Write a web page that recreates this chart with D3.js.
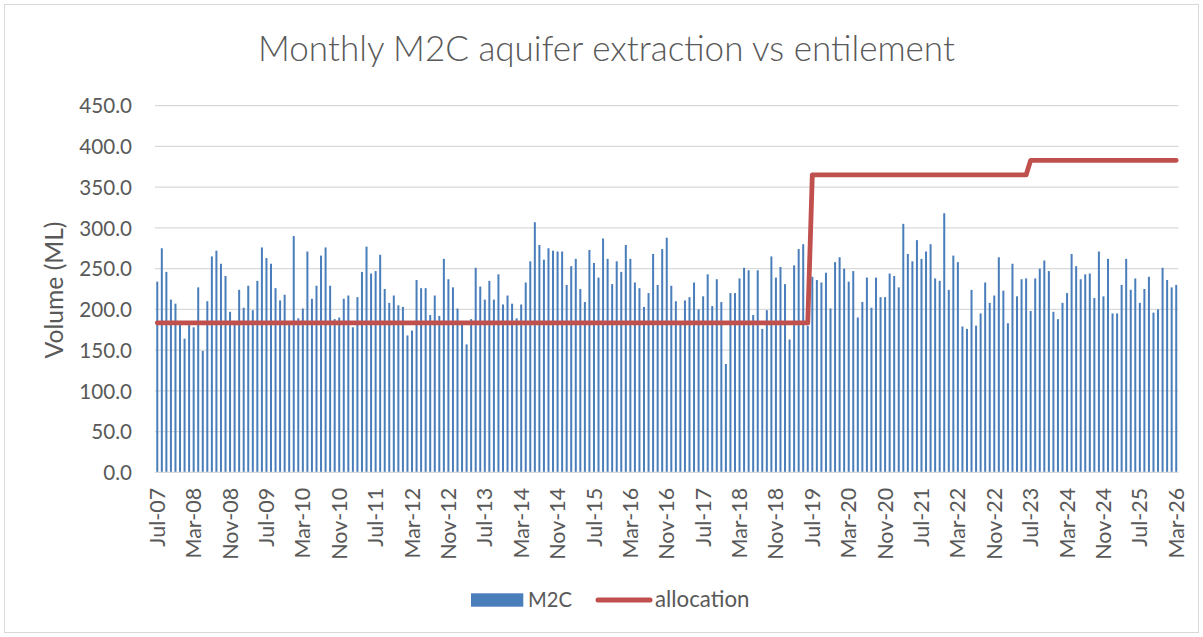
<!DOCTYPE html>
<html>
<head>
<meta charset="utf-8">
<script src="https://cdn.jsdelivr.net/npm/d3@7"></script>
<style>
  html, body { margin: 0; padding: 0; background: #fff; }
  svg { display: block; font-family: Lato, "Open Sans", sans-serif; }
</style>
</head>
<body>
<svg id="chart" width="1203" height="637"></svg>
<script>
// ---------------- DATA ----------------
const startMonth = new Date(2007, 6, 1);   // Jul-07
const endMonth = new Date(2026, 2, 1);     // Mar-26
const months = d3.timeMonth.range(startMonth, d3.timeMonth.offset(endMonth, 1));
const fmt = d3.timeFormat("%b-%y");
const categories = months.map(fmt);

const m2c = [
  234,275,246,212,207,181,164,181,178,227,149,210,265,272,256,241,197,185,224,202,
  229,199,235,276,263,256,226,211,218,181,290,189,201,271,213,229,266,276,229,188,
  190,213,217,178,215,246,277,244,247,267,225,208,217,205,203,168,174,236,226,226,
  193,217,192,262,237,227,201,185,157,188,251,228,212,235,212,243,206,217,207,189,
  206,233,259,307,279,261,275,272,271,271,230,253,262,225,209,273,257,239,287,262,
  231,259,246,279,262,233,226,203,220,268,230,274,288,229,210,185,211,215,233,200,
  216,243,204,237,209,133,220,220,238,251,248,193,248,176,199,265,239,252,231,163,
  254,274,280,180,240,236,233,245,201,258,264,250,234,247,190,209,239,202,239,215,
  215,244,241,227,305,268,259,285,262,271,280,238,235,318,224,266,258,179,176,224,
  180,195,233,208,217,264,223,183,256,216,237,238,198,238,250,260,247,197,188,208,
  220,268,253,237,243,244,214,271,216,262,195,195,230,262,224,238,208,225,240,196,
  200,251,236,227,230
];

// allocation (entitlement) periods
const allocationPeriods = [
  { from: "Jul-07", to: "Jun-19", value: 183.5 },
  { from: "Jul-19", to: "Jun-23", value: 365 },
  { from: "Jul-23", to: "Mar-26", value: 383 }
];

const yTicks = [0, 50, 100, 150, 200, 250, 300, 350, 400, 450];
const xTickLabels = ["Jul-07","Mar-08","Nov-08","Jul-09","Mar-10","Nov-10","Jul-11","Mar-12",
  "Nov-12","Jul-13","Mar-14","Nov-14","Jul-15","Mar-16","Nov-16","Jul-17","Mar-18","Nov-18",
  "Jul-19","Mar-20","Nov-20","Jul-21","Mar-22","Nov-22","Jul-23","Mar-24","Nov-24","Jul-25","Mar-26"];

const titleText = "Monthly M2C aquifer extraction vs entilement";
const yLabelText = "Volume (ML)";
const seriesNames = ["M2C", "allocation"];

// build allocation per category
const allocation = categories.map((c, idx) => {
  const p = allocationPeriods.find(p => idx >= categories.indexOf(p.from) && idx <= categories.indexOf(p.to));
  return p ? p.value : null;
});

// ---------------- LAYOUT ----------------
const svg = d3.select("#chart");
const W = 1203, H = 637;
const plot = { left: 155, right: 1178.5, top: 105.7, bottom: 472.3 };
const barColor = "#4a7ebb";
const lineColor = "#c0504d";
const textColor = "#595959";
const gridColor = "#d9d9d9";

// outer border
svg.append("rect").attr("x", 4.5).attr("y", 4.5).attr("width", W - 9).attr("height", H - 9)
  .attr("fill", "#fff").attr("stroke", gridColor).attr("stroke-width", 1);

const x = d3.scaleBand().domain(categories).range([plot.left, plot.right]).paddingInner(0.56).paddingOuter(0.28);
const y = d3.scaleLinear().domain([0, 450]).range([plot.bottom, plot.top]);

function fit(sel, target) {
  const node = sel.node();
  const fs = parseFloat(sel.attr("font-size"));
  const len = node.getComputedTextLength();
  sel.attr("font-size", (fs * target / len).toFixed(2));
}

// gridlines
svg.append("g").selectAll("line").data(yTicks.slice(1)).join("line")
  .attr("x1", plot.left).attr("x2", plot.right)
  .attr("y1", d => y(d)).attr("y2", d => y(d))
  .attr("stroke", gridColor).attr("stroke-width", 1.3);

// y axis (labels only)
const yAxis = d3.axisLeft(y).tickValues(yTicks).tickFormat(d3.format(".1f")).tickSize(0).tickPadding(0);
const yg = svg.append("g").attr("transform", `translate(132,0)`).call(yAxis);
yg.select(".domain").remove();
yg.selectAll("text").attr("fill", textColor).attr("font-size", 20)
  .attr("font-family", "Lato, sans-serif").attr("dy", "0.35em").attr("x", 0);
{
  const t = yg.selectAll("text").filter(d => d === 450);
  const len = t.node().getComputedTextLength();
  const fs = 20 * 52.7 / len;
  yg.selectAll("text").attr("font-size", fs.toFixed(2));
}

// bars
svg.append("g").selectAll("rect").data(m2c).join("rect")
  .attr("x", (d, i) => x(categories[i]))
  .attr("width", x.bandwidth())
  .attr("y", d => y(d))
  .attr("height", d => y(0) - y(d))
  .attr("fill", barColor);

// x axis line
svg.append("line").attr("x1", plot.left).attr("x2", plot.right)
  .attr("y1", plot.bottom).attr("y2", plot.bottom)
  .attr("stroke", gridColor).attr("stroke-width", 1.3);

// x axis labels
const xAxis = d3.axisBottom(x).tickValues(xTickLabels).tickSize(0).tickPadding(0);
const xg = svg.append("g").attr("transform", `translate(0,${plot.bottom})`).call(xAxis);
xg.select(".domain").remove();
xg.selectAll("text")
  .attr("fill", textColor).attr("font-size", 20).attr("font-family", "Lato, sans-serif")
  .attr("text-anchor", "end")
  .attr("transform", "translate(0,15.5) rotate(-90)")
  .attr("x", 0).attr("y", 0).attr("dy", "0.35em");
{
  const t = xg.selectAll("text").filter(d => d === "Mar-12");
  const len = t.node().getComputedTextLength();
  xg.selectAll("text").attr("font-size", (20 * 70.7 / len).toFixed(2));
}

// allocation line
const line = d3.line()
  .x((d, i) => x(categories[i]) + x.bandwidth() / 2)
  .y(d => y(d));
svg.append("path").datum(allocation)
  .attr("d", line)
  .attr("fill", "none").attr("stroke", lineColor).attr("stroke-width", 4.8)
  .attr("stroke-linejoin", "round").attr("stroke-linecap", "round");

// title
const title = svg.append("text").attr("x", 606.5).attr("y", 61)
  .attr("text-anchor", "middle").attr("fill", textColor).attr("font-size", 30)
  .attr("font-weight", 300)
  .attr("font-family", "Lato, sans-serif").text(titleText);
fit(title, 697);

// y label
const yl = svg.append("text")
  .attr("transform", "translate(63,290) rotate(-90)")
  .attr("text-anchor", "middle").attr("fill", textColor).attr("font-size", 22)
  .attr("font-family", "Lato, sans-serif").text(yLabelText);
fit(yl, 137);

// legend
const lg = svg.append("g");
lg.append("rect").attr("x", 471).attr("y", 593.3).attr("width", 52.3).attr("height", 13.4).attr("fill", barColor);
const t1 = lg.append("text").attr("x", 528).attr("y", 606.7).attr("fill", textColor)
  .attr("font-size", 22).attr("font-family", "Lato, sans-serif").text(seriesNames[0]);
fit(t1, 44);
lg.append("line").attr("x1", 598).attr("x2", 650).attr("y1", 600).attr("y2", 600)
  .attr("stroke", lineColor).attr("stroke-width", 5).attr("stroke-linecap", "round");
const t2 = lg.append("text").attr("x", 655).attr("y", 606.7).attr("fill", textColor)
  .attr("font-size", 22).attr("font-family", "Lato, sans-serif").text(seriesNames[1]);
fit(t2, 94.5);
</script>
</body>
</html>
